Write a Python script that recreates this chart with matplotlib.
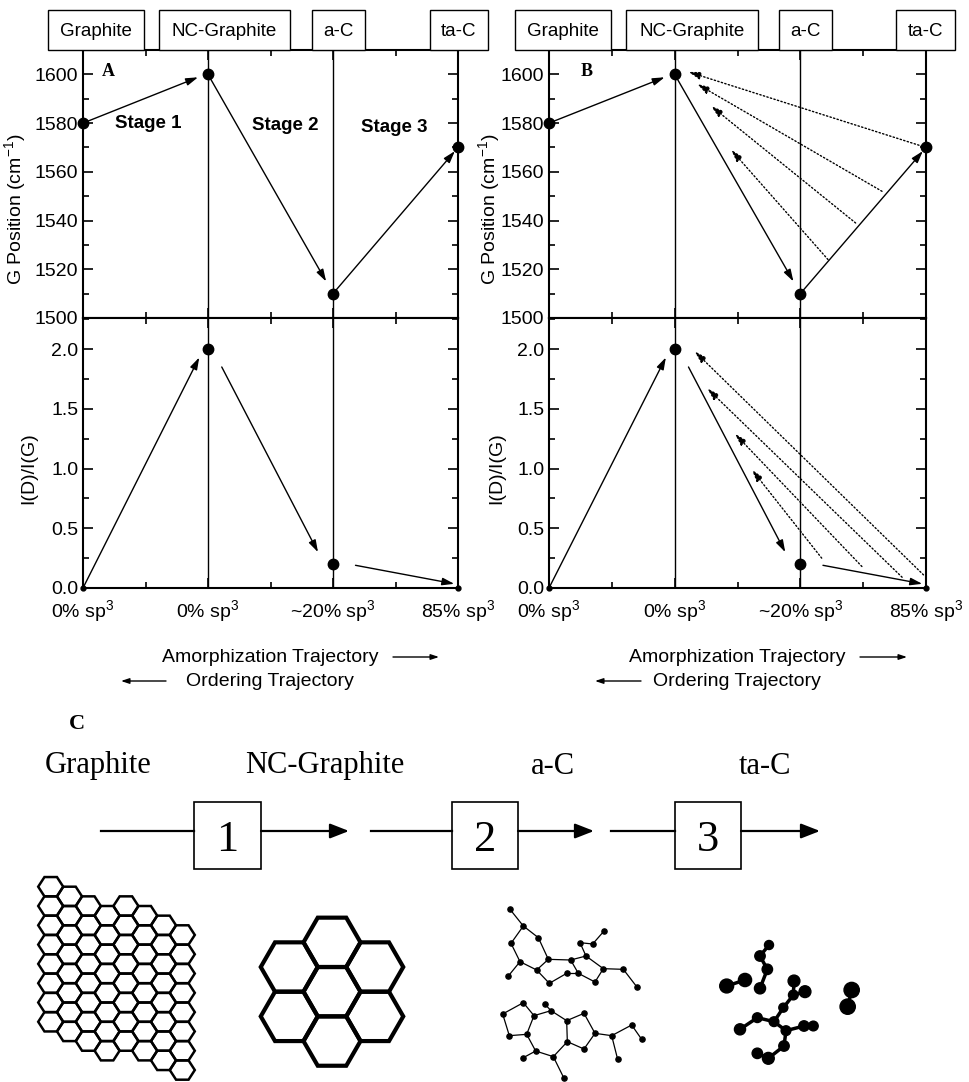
import matplotlib
matplotlib.use('Agg')
import matplotlib.pyplot as plt
from matplotlib.patches import Rectangle, Polygon
from matplotlib.ticker import MultipleLocator
import numpy as np

plt.rcParams['font.family'] = ['Liberation Sans', 'DejaVu Sans']
plt.rcParams['mathtext.fontset'] = 'custom'
plt.rcParams['mathtext.rm'] = 'Liberation Sans'
plt.rcParams['mathtext.it'] = 'Liberation Sans:italic'
plt.rcParams['mathtext.bf'] = 'Liberation Sans:bold'

# ---- chart data ----
stages = ['Graphite', 'NC-Graphite', 'a-C', 'ta-C']
sp3_labels = ['0% sp$^3$', '0% sp$^3$', '~20% sp$^3$', '85% sp$^3$']
x_pos = [0, 1, 2, 3]
g_position = [1580, 1600, 1510, 1570]
id_ig = [0.0, 2.0, 0.2, 0.0]
stage_names = ['Stage 1', 'Stage 2', 'Stage 3']

# solid trajectory arrows (start, end) in data units
g_arrows = [((0, 1580), (0.92, 1598.8)),
            ((1, 1600), (1.945, 1515)),
            ((2, 1510), (2.975, 1568.5))]
i_arrows = [((0, 0.0), (0.93, 1.93)),
            ((1.11, 1.85), (1.88, 0.30)),
            ((2.18, 0.19), (2.97, 0.035))]

# dotted "ordering" arrows in panel B
g_dot_start = [(3.0, 1570), (2.65, 1552), (2.44, 1539), (2.22, 1524)]
g_dot_end = [(1.11, 1601), (1.18, 1596), (1.29, 1587), (1.45, 1569)]
i_dot_start = [(2.98, 0.11), (2.81, 0.09), (2.49, 0.18), (2.17, 0.25)]
i_dot_end = [(1.16, 1.98), (1.26, 1.67), (1.48, 1.29), (1.615, 0.99)]

# ---- panel C drawing data ----
graphite_col_offsets = [0, 1, 2, 3, 2, 3, 4, 5]   # half-row shifts of each column
graphite_rows = 8

# a-C atoms (local 3x zoom frame) and bonds
ac_atoms_top = [(120, 118), (160, 168), (205, 203), (123, 220), (150, 275), (115, 318),
                (200, 300), (235, 268), (238, 340), (290, 310), (302, 270), (325, 310),
                (348, 258), (330, 218), (368, 222), (403, 182), (375, 336), (400, 296),
                (460, 298), (500, 350)]
ac_bonds_top = [(0, 1), (1, 2), (1, 3), (3, 4), (4, 5), (4, 6), (2, 7), (6, 7), (6, 8),
                (8, 9), (9, 11), (7, 10), (10, 12), (10, 11), (11, 16), (16, 17), (12, 17),
                (12, 13), (13, 14), (14, 15), (17, 18), (18, 19)]
ac_atoms_bot = [(98, 432), (160, 398), (192, 437), (170, 493), (118, 497), (225, 403),
                (243, 422), (290, 452), (342, 430), (375, 490), (342, 537), (292, 515),
                (250, 560), (197, 543), (160, 563), (282, 625), (425, 497), (443, 568),
                (485, 465), (515, 508)]
ac_bonds_bot = [(0, 1), (1, 2), (2, 3), (3, 4), (4, 0), (2, 6), (5, 6), (6, 7), (7, 8),
                (8, 9), (9, 10), (10, 11), (11, 7), (11, 12), (12, 13), (13, 3), (13, 14),
                (12, 15), (9, 16), (16, 17), (16, 18), (18, 19)]

# ta-C atoms (local 3x zoom frame): x, y, radius
tac_atoms = [(207, 135, 13), (180, 168, 15), (202, 208, 15), (180, 265, 16), (80, 258, 20),
             (135, 240, 19), (282, 243, 17), (315, 275, 17), (280, 285, 14), (250, 323, 13),
             (455, 270, 22), (443, 320, 22), (172, 353, 14), (120, 388, 16), (222, 365, 14),
             (258, 392, 14), (312, 378, 15), (340, 378, 14), (252, 438, 15), (205, 475, 17),
             (172, 460, 15)]
tac_bonds = [(0, 1), (1, 2), (2, 3), (4, 5), (6, 8), (7, 8), (8, 9), (9, 14), (12, 14),
             (12, 13), (14, 15), (15, 16), (16, 17), (15, 18), (18, 19), (19, 20), (10, 11)]

W, H = 969, 1082
fig = plt.figure(figsize=(W / 100, H / 100), dpi=100)


def px_axes(left, right, top, bottom):
    return fig.add_axes([left / W, 1 - bottom / H, (right - left) / W, (bottom - top) / H])


def style_axes(ax, ylim, major, minor):
    ax.set_xlim(0, 3)
    ax.set_ylim(*ylim)
    ax.xaxis.set_major_locator(MultipleLocator(1))
    ax.xaxis.set_minor_locator(MultipleLocator(0.5))
    ax.yaxis.set_major_locator(MultipleLocator(major))
    ax.yaxis.set_minor_locator(MultipleLocator(minor))
    ax.tick_params(which='both', direction='in', top=True, right=True, width=1.2, labelsize=14)
    ax.tick_params(which='major', length=7)
    ax.tick_params(which='minor', length=4.5)
    for s in ax.spines.values():
        s.set_linewidth(1.5)
    for xv in (1, 2):
        ax.axvline(xv, color='k', lw=1.0)


def arrow(ax, start, end, dotted=False, ms=9):
    ax.annotate('', xy=end, xytext=start,
                arrowprops=dict(arrowstyle='-|>,head_length=0.8,head_width=0.25',
                                lw=1.0, color='k', shrinkA=0, shrinkB=0,
                                mutation_scale=ms, linestyle=':' if dotted else '-'),
                annotation_clip=False)


panels = [dict(left=83, right=458, label='A', lab_x=108, ylab_up=-0.147, ylab_lo=-0.123,
               boxes=[(48, 144), (159, 290), (312, 365), (430, 488)], dotted=False),
          dict(left=549, right=926, label='B', lab_x=587, ylab_up=-0.125, ylab_lo=-0.117,
               boxes=[(515, 611), (626, 758), (779, 832), (896, 955)], dotted=True)]

for p in panels:
    up = px_axes(p['left'], p['right'], 50, 318)
    lo = px_axes(p['left'], p['right'], 318, 588)
    style_axes(up, (1500, 1610), 20, 10)
    style_axes(lo, (0, 2.26), 0.5, 0.25)
    up.tick_params(labelbottom=False)
    lo.set_xticks(x_pos, sp3_labels)
    lo.tick_params(axis='x', pad=7)

    up.plot(x_pos, g_position, 'o', color='k', ms=7.5, clip_on=False, zorder=5)
    lo.plot(x_pos[1:3], id_ig[1:3], 'o', color='k', ms=7.5, clip_on=False, zorder=5)
    lo.plot([x_pos[0], x_pos[3]], [id_ig[0], id_ig[3]], 'o', color='k', ms=3.5,
            clip_on=False, zorder=5)

    for s, e in g_arrows:
        arrow(up, s, e)
    for s, e in i_arrows:
        arrow(lo, s, e)
    if p['dotted']:
        for s, e in zip(g_dot_start, g_dot_end):
            arrow(up, s, e, dotted=True)
        for s, e in zip(i_dot_start, i_dot_end):
            arrow(lo, s, e, dotted=True)

    up.set_ylabel('G Position (cm$^{-1}$)', fontsize=14)
    up.yaxis.set_label_coords(p['ylab_up'], 0.405)
    lo.set_ylabel('I(D)/I(G)', fontsize=14)
    lo.yaxis.set_label_coords(p['ylab_lo'], 0.444)

# ---- overlay in pixel coordinates ----
ov = fig.add_axes([0, 0, 1, 1])
ov.set_xlim(0, W)
ov.set_ylim(H, 0)
ov.axis('off')
ov.patch.set_visible(False)

for p in panels:
    for (x0, x1), name in zip(p['boxes'], stages):
        ov.add_patch(Rectangle((x0, 10), x1 - x0, 40, fill=True, facecolor='white',
                               edgecolor='k', lw=1.0, zorder=3))
        ov.text((x0 + x1) / 2, 31, name, ha='center', va='center', fontsize=13.5, zorder=4)
    ov.text(p['lab_x'], 71, p['label'], ha='center', va='center', fontsize=13,
            fontweight='bold', family='Liberation Serif')

for (sx, sy), name in zip([(148, 123), (285, 126), (394, 128)], stage_names):
    ov.text(sx, sy, name, ha='center', va='center', fontsize=13.5, fontweight='bold')

# trajectory legends
for cx, amo, ordr in [(270, (393, 439), (166, 121)), (737, (860, 907), (641, 595))]:
    ov.text(cx, 657, 'Amorphization Trajectory', ha='center', va='center', fontsize=14)
    ov.text(cx, 681, 'Ordering Trajectory', ha='center', va='center', fontsize=14)
    for (a, b), yy in [(amo, 657), (ordr, 681)]:
        ov.annotate('', xy=(b, yy), xytext=(a, yy),
                    arrowprops=dict(arrowstyle='-|>,head_length=0.6,head_width=0.2',
                                    lw=1.0, color='k', shrinkA=0, shrinkB=0, mutation_scale=8))

# panel C
ov.text(77, 724, 'C', ha='center', va='center', fontsize=16, fontweight='bold',
        family='Liberation Serif')
for cx, name in zip([98, 325, 553, 765], stages):
    ov.text(cx, 766, name, ha='center', va='center', fontsize=22, family='Liberation Serif')

flow_y = 831
for (l0, bx0, bx1, a1), num in zip([(101, 194, 261, 349), (371, 452, 518, 594),
                                    (611, 675, 741, 820)], ['1', '2', '3']):
    ov.plot([l0, bx0], [flow_y, flow_y], color='k', lw=1.6)
    ov.add_patch(Rectangle((bx0, 802), bx1 - bx0, 67, fill=False, edgecolor='k', lw=1.2))
    ov.text((bx0 + bx1) / 2, 840, num, ha='center', va='center', fontsize=32,
            family='Liberation Serif')
    ov.annotate('', xy=(a1, flow_y), xytext=(bx1, flow_y),
                arrowprops=dict(arrowstyle='-|>,head_length=1.15,head_width=0.45',
                                lw=1.6, color='k', shrinkA=0, shrinkB=0, mutation_scale=10))


def hexagon(cx, cy, r, hh):
    return [(cx + r, cy), (cx + r / 2, cy + hh), (cx - r / 2, cy + hh),
            (cx - r, cy), (cx - r / 2, cy - hh), (cx + r / 2, cy - hh)]


# graphite sheet
for k, off in enumerate(graphite_col_offsets):
    cx = 50.7 + 18.8 * k
    for j in range(graphite_rows):
        cy = 886.7 + 9.65 * off + 19.3 * j
        ov.add_patch(Polygon(hexagon(cx, cy, 12.5, 9.65), closed=True, fill=False,
                             edgecolor='k', lw=1.8))

# nanocrystalline graphite: 7 hexagons
R = 28.5
hh = np.sqrt(3) / 2 * R
ncx, ncy = 332, 991.7
for dx, dy in [(0, 0), (0, -2 * hh), (0, 2 * hh), (1.5 * R, -hh), (1.5 * R, hh),
               (-1.5 * R, -hh), (-1.5 * R, hh)]:
    ov.add_patch(Polygon(hexagon(ncx + dx, ncy + dy, R, hh), closed=True, fill=False,
                         edgecolor='k', lw=3.0))

# a-C clusters
for atoms, bonds in [(ac_atoms_top, ac_bonds_top), (ac_atoms_bot, ac_bonds_bot)]:
    xs = [470 + a[0] / 3 for a in atoms]
    ys = [870 + a[1] / 3 for a in atoms]
    for i, j in bonds:
        ov.plot([xs[i], xs[j]], [ys[i], ys[j]], color='k', lw=0.9)
    ov.scatter(xs, ys, s=14, color='k', zorder=3)

# ta-C clusters
txs = [700 + a[0] / 3 for a in tac_atoms]
tys = [900 + a[1] / 3 for a in tac_atoms]
tsz = [(2 * a[2] / 3 * 0.75) ** 2 for a in tac_atoms]
for i, j in tac_bonds:
    ov.plot([txs[i], txs[j]], [tys[i], tys[j]], color='k', lw=2.5)
ov.scatter(txs, tys, s=tsz, color='k', zorder=3)

fig.savefig('out.png', dpi=100)
